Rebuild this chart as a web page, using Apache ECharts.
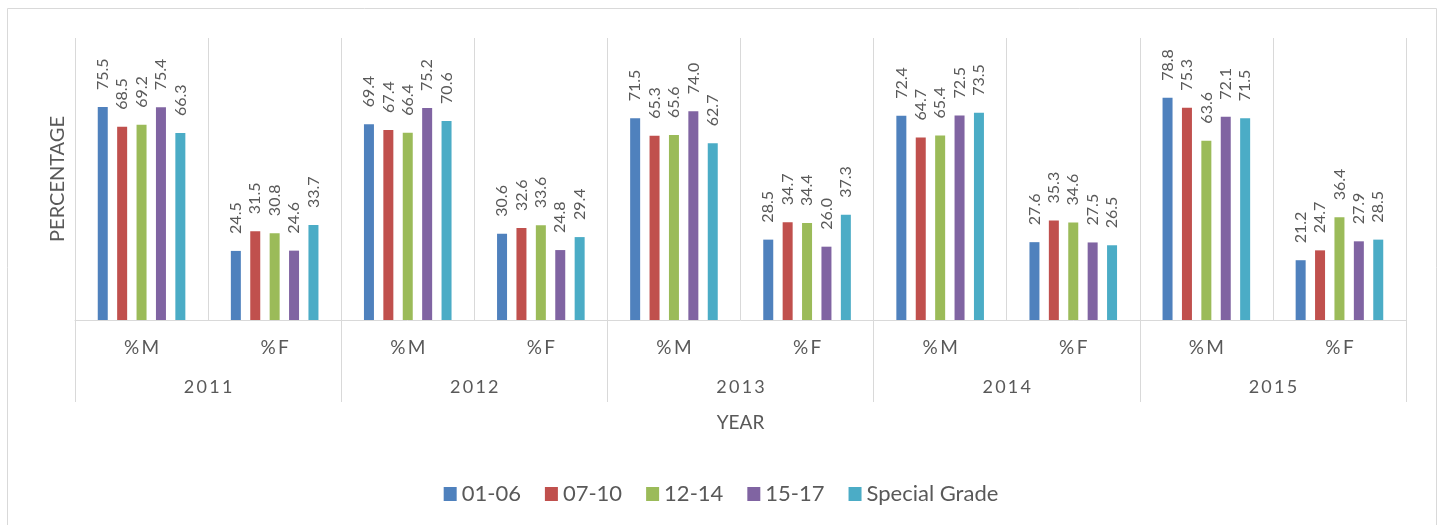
<!DOCTYPE html>
<html>
<head>
<meta charset="utf-8">
<script src="https://cdn.jsdelivr.net/npm/echarts@6/dist/echarts.min.js"></script>
<style>
  html, body { margin: 0; padding: 0; background: #fff; }
  #main { width: 1442px; height: 525px; }
</style>
</head>
<body>
<div id="main"></div>
<script>
// categories
var groups = ['%M', '%F', '%M', '%F', '%M', '%F', '%M', '%F', '%M', '%F'];
var years = ['2011', '2012', '2013', '2014', '2015'];
var seriesNames = ['01-06', '07-10', '12-14', '15-17', 'Special Grade'];

// values (percent)
var g0106 = [75.5, 24.5, 69.4, 30.6, 71.5, 28.5, 72.4, 27.6, 78.8, 21.2];
var g0710 = [68.5, 31.5, 67.4, 32.6, 65.3, 34.7, 64.7, 35.3, 75.3, 24.7];
var g1214 = [69.2, 30.8, 66.4, 33.6, 65.6, 34.4, 65.4, 34.6, 63.6, 36.4];
var g1517 = [75.4, 24.6, 75.2, 24.8, 74.0, 26.0, 72.5, 27.5, 72.1, 27.9];
var gSpecial = [66.3, 33.7, 70.6, 29.4, 62.7, 37.3, 73.5, 26.5, 71.5, 28.5];

var colors = ['#4F81BD', '#C0504D', '#9BBB59', '#8064A2', '#4BACC6'];
var textColor = '#595959';
var lineColor = '#D9D9D9';
var font = 'Lato, "Open Sans", sans-serif';

var chartDom = document.getElementById('main');
var myChart = echarts.init(chartDom);

function bar(name, data) {
  return {
    name: name,
    type: 'bar',
    xAxisIndex: 0,
    barWidth: 10,
    barGap: '94%',
    data: data,
    label: {
      show: true,
      position: 'top',
      rotate: 90,
      align: 'left',
      verticalAlign: 'middle',
      distance: 17,
      color: textColor,
      fontFamily: font,
      fontSize: 16,
      formatter: function (p) { return p.value.toFixed(1); }
    }
  };
}

var option = {
  color: colors,
  animation: false,
  textStyle: { fontFamily: font },
  graphic: [{
    type: 'rect',
    shape: { x: 7.5, y: 8.5, width: 1429, height: 600 },
    style: { fill: 'none', stroke: lineColor, lineWidth: 1 },
    silent: true,
    z: -1
  }],
  grid: {
    left: 75,
    right: 36,
    top: 38,
    bottom: 205
  },
  legend: {
    data: seriesNames,
    top: 478,
    left: 'center',
    icon: 'rect',
    itemWidth: 13,
    itemHeight: 14,
    itemGap: 24,
    textStyle: { color: textColor, fontSize: 22, fontFamily: font }
  },
  xAxis: [
    {
      type: 'category',
      position: 'bottom',
      data: groups,
      axisLine: { lineStyle: { color: lineColor, width: 1 } },
      axisTick: { show: false },
      splitLine: { show: true, lineStyle: { color: lineColor, width: 1 } },
      axisLabel: {
        interval: 0,
        margin: 18,
        color: textColor,
        fontSize: 19,
        fontFamily: font,
        formatter: function (v) { return v.charAt(0) + '\u2009' + v.slice(1); }
      }
    },
    {
      type: 'category',
      position: 'bottom',
      data: years,
      axisLine: { show: false },
      axisTick: { show: true, interval: 0, length: 82, lineStyle: { color: lineColor, width: 1 } },
      axisLabel: {
        interval: 0,
        margin: 58,
        color: textColor,
        fontSize: 18,
        fontFamily: font,
        formatter: function (v) { return v.split('').join('\u2009'); }
      },
      name: 'YEAR',
      nameLocation: 'middle',
      nameGap: 93,
      nameTextStyle: { color: textColor, fontSize: 19, fontFamily: font }
    }
  ],
  yAxis: {
    type: 'value',
    min: 0,
    max: 100,
    axisLabel: { show: false },
    axisLine: { show: false },
    axisTick: { show: false },
    splitLine: { show: false },
    name: 'PERCENTAGE',
    nameLocation: 'middle',
    nameRotate: 90,
    nameGap: 7,
    nameTextStyle: { color: textColor, fontSize: 20, fontFamily: font }
  },
  series: [
    bar(seriesNames[0], g0106),
    bar(seriesNames[1], g0710),
    bar(seriesNames[2], g1214),
    bar(seriesNames[3], g1517),
    bar(seriesNames[4], gSpecial)
  ]
};

option && myChart.setOption(option);
</script>
</body>
</html>
